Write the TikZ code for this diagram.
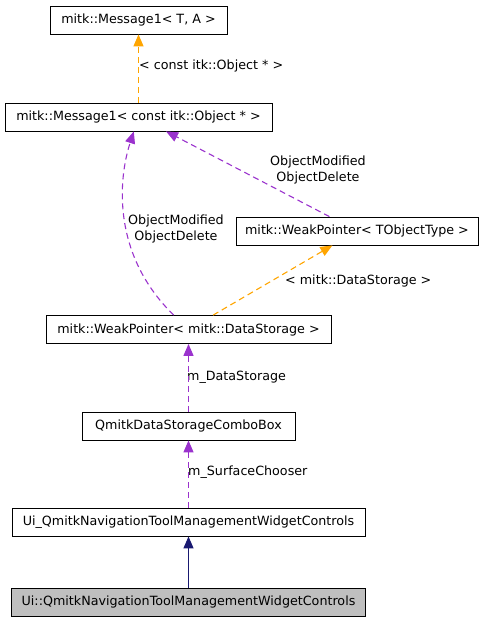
\documentclass[tikz,border=0pt]{standalone}
\usepackage{fontspec}
\setmainfont{DejaVu Sans}
\usetikzlibrary{arrows.meta}
\definecolor{edgepurple}{HTML}{9A32CD}
\definecolor{edgeorange}{HTML}{FFA500}
\definecolor{edgenavy}{HTML}{191970}
\definecolor{selfgray}{HTML}{BFBFBF}

\begin{document}
\begin{tikzpicture}[x=1pt,y=-1pt,
    cls/.style={draw,thick,fill=white,inner sep=0pt,minimum height=28pt,font=\fontsize{12.7}{15}\selectfont},
    lbl/.style={inner sep=0pt,font=\fontsize{12.7}{15.5}\selectfont,align=center},
    usage/.style={edgepurple,line width=1.1pt,dash pattern=on 6pt off 4pt,-{Triangle[length=12pt,width=10pt]}},
    templ/.style={edgeorange,line width=1.1pt,dash pattern=on 6pt off 4pt,-{Triangle[length=12pt,width=10pt]}},
    inherit/.style={edgenavy,line width=1.1pt,-{Triangle[length=12pt,width=10pt]}}]
  \useasboundingbox (0,0) rectangle (481,621);
  \node[cls,minimum width=177pt] (msgt) at (138.5,20) {mitk::Message1< T, A >};
  \node[cls,minimum width=267pt] (msgc) at (138.5,117) {mitk::Message1< const itk::Object * >};
  \node[cls,minimum width=242pt] (wptot) at (357,231) {mitk::WeakPointer< TObjectType >};
  \node[cls,minimum width=285pt] (wpds) at (188.5,329.5) {mitk::WeakPointer< mitk::DataStorage >};
  \node[cls,minimum width=213pt] (combo) at (188.5,426) {QmitkDataStorageComboBox};
  \node[cls,minimum width=353pt] (uictl) at (188.5,522) {Ui\_QmitkNavigationToolManagementWidgetControls};
  \node[cls,minimum width=354pt,fill=selfgray] (uins) at (188.5,602) {Ui::QmitkNavigationToolManagementWidgetControls};
    \node[lbl,anchor=west] (lmsg) at (139,66) {< const itk::Object * >};
    \node[lbl] (lobj1) at (318,170) {ObjectModified\\ObjectDelete};
    \node[lbl] (lobj2) at (176,229) {ObjectModified\\ObjectDelete};
    \node[lbl,anchor=west] (lds) at (285,281) {< mitk::DataStorage >};
    \node[lbl,anchor=west] (lmds) at (187,377) {m\_DataStorage};
    \node[lbl,anchor=west] (lsurf) at (188,472) {m\_SurfaceChooser};
    \draw[templ] (msgc) -- (msgt);
    \draw[usage] (wptot) -- (msgc);
    \draw[usage] (wpds) .. controls (112,255) and (118,180) .. (msgc);
    \draw[templ] (wpds) -- (wptot);
    \draw[usage] (combo) -- (wpds);
    \draw[usage] (uictl) -- (combo);
    \draw[inherit] (uins) -- (uictl);
\end{tikzpicture}
\end{document}
